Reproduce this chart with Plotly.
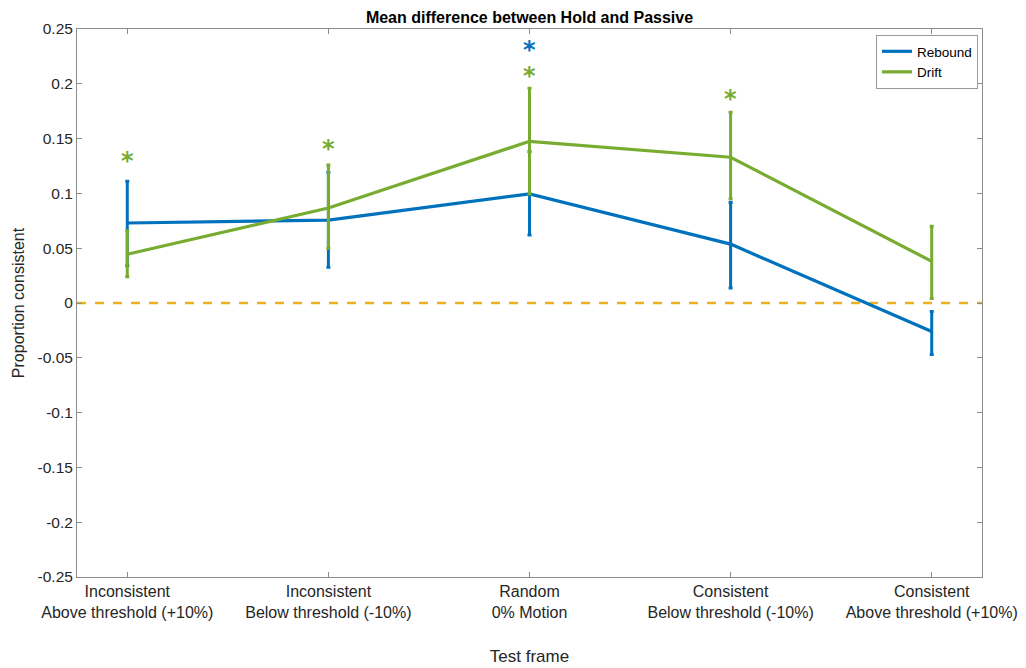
import plotly.graph_objects as go

categories = ["Inconsistent<br>Above threshold (+10%)", "Inconsistent<br>Below threshold (-10%)",
              "Random<br>0% Motion", "Consistent<br>Below threshold (-10%)",
              "Consistent<br>Above threshold (+10%)"]
x_pos = [1, 2, 3, 4, 5]

rebound_mean = [0.073, 0.0757, 0.0995, 0.0537, -0.026]
rebound_upper = [0.111, 0.119, 0.138, 0.0916, -0.0078]
rebound_lower = [0.034, 0.0326, 0.062, 0.0136, -0.047]

drift_mean = [0.0445, 0.0867, 0.1475, 0.133, 0.038]
drift_upper = [0.066, 0.126, 0.196, 0.174, 0.070]
drift_lower = [0.024, 0.050, 0.0995, 0.095, 0.004]

rebound_star_x = [3]
rebound_star_y = [0.235]
drift_star_x = [1, 2, 3, 4]
drift_star_y = [0.134, 0.145, 0.212, 0.191]

y_ticks = [0.25, 0.2, 0.15, 0.1, 0.05, 0, -0.05, -0.1, -0.15, -0.2, -0.25]

BLUE = "#0072BD"
GREEN = "#77AC30"
YELLOW = "#EDB120"
FONT = "Liberation Sans"

fig = go.Figure()

fig.add_trace(go.Scatter(x=[0.75, 5.25], y=[0, 0], mode="lines",
                         line=dict(color=YELLOW, width=2.5, dash="dash"),
                         showlegend=False, hoverinfo="skip"))

def add_series(name, mean, up, lo, color):
    fig.add_trace(go.Scatter(
        x=x_pos, y=mean, mode="lines", name=name,
        line=dict(color=color, width=3.2),
        error_y=dict(type="data", symmetric=False,
                     array=[u - m for u, m in zip(up, mean)],
                     arrayminus=[m - l for m, l in zip(mean, lo)],
                     color=color, thickness=3, width=2),
    ))

add_series("Rebound", rebound_mean, rebound_upper, rebound_lower, BLUE)
add_series("Drift", drift_mean, drift_upper, drift_lower, GREEN)

for sx, sy, col in [(rebound_star_x, rebound_star_y, BLUE), (drift_star_x, drift_star_y, GREEN)]:
    for xv, yv in zip(sx, sy):
        fig.add_annotation(x=xv, y=yv, text="<b>*</b>", showarrow=False, xanchor="center", yanchor="middle",
                           yshift=-5, font=dict(size=24, color=col, family="DejaVu Sans"))

axis_common = dict(showline=True, linecolor="#8c8c8c", linewidth=1, mirror="ticks",
                   ticks="inside", ticklen=5, tickcolor="#8c8c8c", showgrid=False, zeroline=False,
                   automargin=False)

fig.update_layout(
    width=1026, height=668,
    paper_bgcolor="white", plot_bgcolor="white",
    margin=dict(l=69, r=52, t=21, b=99),
    font=dict(family=FONT, color="#262626"),
    title=dict(text="<b>Mean difference between Hold and Passive</b>", x=0.5, xref="paper",
               y=0.986, yanchor="middle", automargin=False, font=dict(size=16, color="black")),
    xaxis=dict(range=[0.75, 5.25], tickmode="array", tickvals=x_pos, ticktext=categories,
               tickfont=dict(size=16, color="#262626", family=FONT),
               title=dict(text="Test frame", font=dict(size=17), standoff=30), **axis_common),
    yaxis=dict(range=[-0.25, 0.25], tickmode="array", tickvals=y_ticks,
               ticktext=[f"{v:g}" for v in y_ticks],
               tickfont=dict(size=15.5, color="#262626", family=FONT),
               title=dict(text="Proportion consistent", font=dict(size=16), standoff=8), **axis_common),
    legend=dict(x=0.9956, y=0.989, xanchor="right", yanchor="top", bgcolor="white",
                bordercolor="#9a9a9a", borderwidth=1, font=dict(size=13.5, color="black"),
                tracegroupgap=0, itemwidth=30),
)

fig.write_html("out.html")
